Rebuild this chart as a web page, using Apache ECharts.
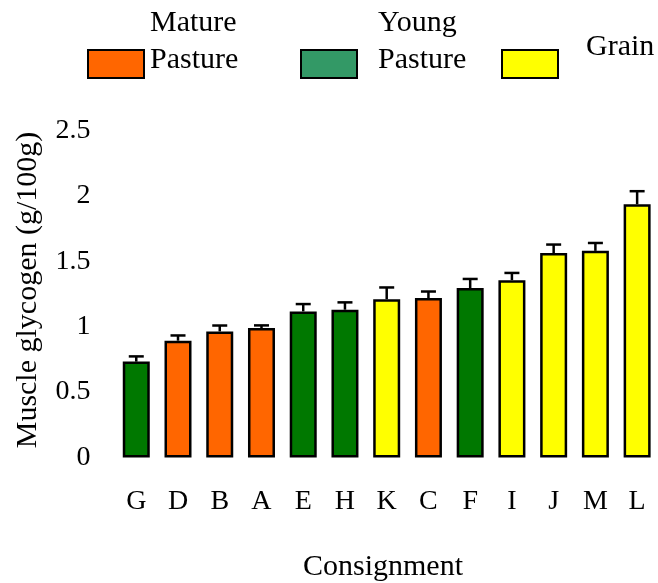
<!DOCTYPE html>
<html>
<head>
<meta charset="utf-8">
<script src="https://cdn.jsdelivr.net/npm/echarts@6/dist/echarts.min.js"></script>
<style>
  html, body { margin: 0; padding: 0; background: #fff; }
  #chart { width: 658px; height: 583px; }
</style>
</head>
<body>
<div id="chart"></div>
<script>
// Consignments sorted by mean muscle glycogen
const consignments = ['G', 'D', 'B', 'A', 'E', 'H', 'K', 'C', 'F', 'I', 'J', 'M', 'L'];
const glycogen     = [0.733, 0.893, 0.964, 0.99, 1.117, 1.13, 1.21, 1.219, 1.295, 1.356, 1.563, 1.58, 1.936];
const stdError     = [0.04, 0.04, 0.045, 0.02, 0.056, 0.056, 0.09, 0.05, 0.07, 0.055, 0.065, 0.06, 0.10];
const feedType     = ['young', 'mature', 'mature', 'mature', 'young', 'young', 'grain', 'mature', 'young', 'grain', 'grain', 'grain', 'grain'];
const yTicks       = [0, 0.5, 1, 1.5, 2, 2.5];

const feedColors = { mature: '#FF6600', young: '#007800', grain: '#FFFF00' };
const legendItems = [
  { lines: ['Mature', 'Pasture'], color: '#FF6600', box: [88, 50], text: 150 },
  { lines: ['Young', 'Pasture'], color: '#339966', box: [301, 50], text: 378 },
  { lines: ['Grain'], color: '#FFFF00', box: [502, 50], text: 586 }
];

const FONT = '"Liberation Serif", "Times New Roman", serif';
const chart = echarts.init(document.getElementById('chart'));

function label(text, x, y, size, extra) {
  return Object.assign({
    type: 'text', x: x, y: y,
    style: { text: text, font: size + 'px ' + FONT, fill: '#000', verticalAlign: 'middle' }
  }, extra || {});
}

const legendGraphics = [];
legendItems.forEach(item => {
  legendGraphics.push({
    type: 'rect',
    shape: { x: item.box[0], y: item.box[1], width: 56, height: 28 },
    style: { fill: item.color, stroke: '#000', lineWidth: 2 }
  });
  if (item.lines.length === 2) {
    legendGraphics.push(label(item.lines[0], item.text, 23, 30));
    legendGraphics.push(label(item.lines[1], item.text, 60, 30));
  } else {
    legendGraphics.push(label(item.lines[0], item.text, 47, 30));
  }
});

const titleGraphics = [
  { type: 'text', x: 383, y: 567,
    style: { text: 'Consignment', font: '30px ' + FONT, fill: '#000', align: 'center', verticalAlign: 'middle' } },
  { type: 'text', x: 28, y: 290, rotation: Math.PI / 2,
    style: { text: 'Muscle glycogen (g/100g)', font: '30px ' + FONT, fill: '#000', align: 'center', verticalAlign: 'middle' } }
];

chart.setOption({
  animation: false,
  backgroundColor: '#fff',
  grid: { left: 115.4, right: -5.6, top: 130.5, bottom: 125.5 },
  xAxis: {
    type: 'category',
    data: consignments,
    boundaryGap: true,
    axisLine: { show: false },
    axisTick: { show: false },
    axisLabel: { color: '#000', fontFamily: FONT, fontSize: 28, margin: 30 }
  },
  yAxis: {
    type: 'value',
    min: yTicks[0],
    max: yTicks[yTicks.length - 1],
    interval: 0.5,
    axisLine: { show: false },
    axisTick: { show: false },
    splitLine: { show: false },
    axisLabel: { color: '#000', fontFamily: FONT, fontSize: 28, margin: 25 }
  },
  graphic: legendGraphics.concat(titleGraphics),
  series: [
    {
      type: 'bar',
      barWidth: 27,
      data: glycogen.map((v, i) => ({
        value: v,
        itemStyle: { color: feedColors[feedType[i]], borderColor: '#000', borderWidth: 2.5 }
      })),
      z: 3
    },
    {
      // upper error whiskers with caps
      type: 'custom',
      z: 2,
      data: glycogen.map((v, i) => [i, v, v + stdError[i]]),
      renderItem: function (params, api) {
        const base = api.coord([api.value(0), api.value(1)]);
        const top = api.coord([api.value(0), api.value(2)]);
        const half = 7.5;
        return {
          type: 'group',
          children: [
            { type: 'line', shape: { x1: base[0], y1: base[1], x2: top[0], y2: top[1] },
              style: { stroke: '#000', lineWidth: 2.5 } },
            { type: 'line', shape: { x1: top[0] - half, y1: top[1], x2: top[0] + half, y2: top[1] },
              style: { stroke: '#000', lineWidth: 2.5 } }
          ]
        };
      }
    }
  ]
});
</script>
</body>
</html>
